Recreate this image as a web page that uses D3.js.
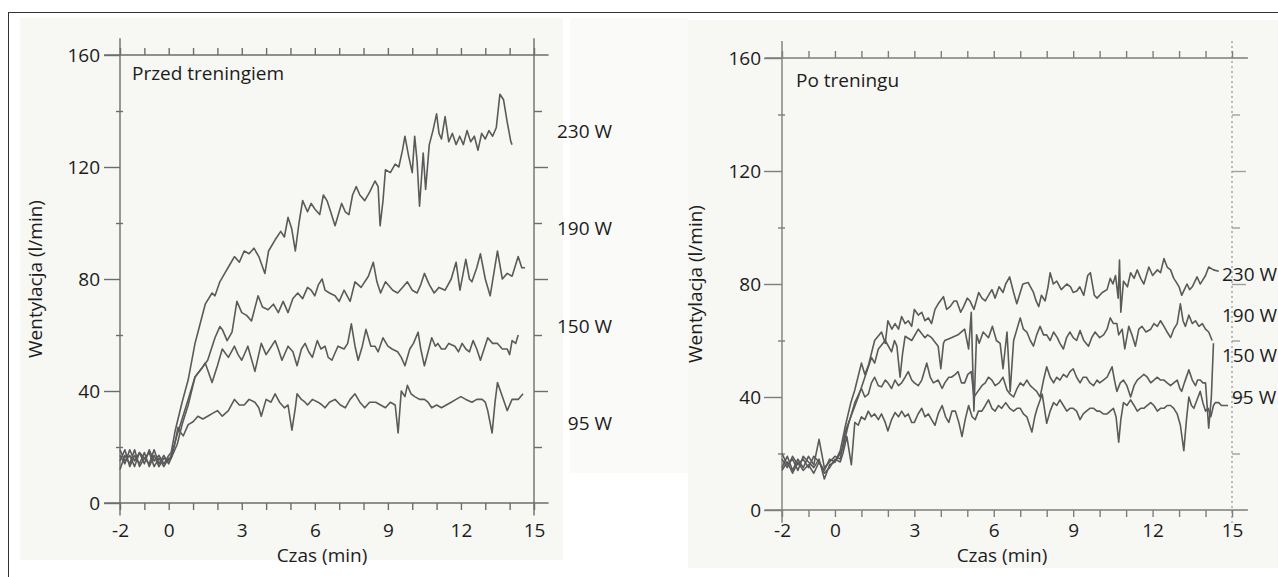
<!DOCTYPE html>
<html>
<head>
<meta charset="utf-8">
<script src="https://cdn.jsdelivr.net/npm/d3@7/dist/d3.min.js"></script>
<style>
  body { margin: 0; background: #fff; }
  svg { display: block; font-family: "Open Sans", "Noto Sans", sans-serif; }
</style>
</head>
<body>
<svg id="chart" width="1278" height="577"></svg>
<script>
// [time (min), ventilation (l/min)]
const przed230 = [[-2,17],[-1.8,14],[-1.6,19],[-1.4,15],[-1.2,18],[-1,14],[-0.8,19],[-0.6,15],[-0.4,17],[-0.2,14],[0,17],
  [0.1,18],[0.27,26],[0.55,36],[0.8,44],[1.08,57],[1.2,61],[1.5,71],[1.78,75],[1.9,74],[2.1,79],[2.3,82],[2.5,85],[2.7,88],[2.9,86],
  [3.1,90],[3.3,89],[3.5,91],[3.7,88],[3.95,82],[4.1,90],[4.37,94],[4.6,97],[4.75,95],[4.9,102],[5.05,98],[5.2,90],[5.35,100],[5.5,108],
  [5.7,104],[5.85,107],[6,105],[6.2,103],[6.35,110],[6.5,108],[6.65,104],[6.83,99],[7,104],[7.1,107],[7.25,104],[7.4,103],[7.55,110],
  [7.7,113],[7.85,110],[8.05,108],[8.25,111],[8.47,115],[8.6,113],[8.68,99],[8.8,108],[8.9,119],[9.1,118],[9.3,121],[9.45,120],[9.6,126],
  [9.7,131],[9.85,124],[10,118],[10.1,131],[10.2,122],[10.3,106],[10.45,125],[10.55,112],[10.7,128],[10.85,133],[11,139],[11.1,132],
  [11.2,130],[11.35,138],[11.5,129],[11.65,132],[11.8,128],[11.95,131],[12.1,128],[12.25,133],[12.4,129],[12.55,131],[12.7,126],
  [12.85,132],[13,130],[13.15,133],[13.3,131],[13.45,134],[13.6,146],[13.75,144],[13.9,136],[14.05,129],[14.1,128]];
const przed190 = [[-2,15],[-1.8,19],[-1.6,13],[-1.4,17],[-1.2,14],[-1,18],[-0.8,13],[-0.6,17],[-0.4,13],[-0.2,16],[0,15],
  [0.1,17],[0.3,23],[0.55,30],[0.8,37],[1.08,45],[1.35,48],[1.6,51],[1.9,59],[2.1,63],[2.2,62],[2.4,58],[2.6,61],[2.8,72],[3,68],
  [3.2,67],[3.4,65],[3.67,74],[3.85,70],[4.08,69],[4.3,71],[4.5,68],[4.7,72],[4.9,68],[5.1,73],[5.3,75],[5.5,73],[5.7,77],[5.85,76],
  [6,74],[6.15,78],[6.3,80],[6.42,76],[6.6,75],[6.83,74],[7,72],[7.2,76],[7.45,72],[7.65,79],[7.9,77],[8.2,81],[8.4,86],[8.55,79],
  [8.7,75],[8.9,79],[9,78],[9.2,76],[9.4,75],[9.6,77],[9.8,79],[10,76],[10.2,75],[10.35,78],[10.5,82],[10.7,78],[10.9,75],[11.1,77],
  [11.35,76],[11.6,80],[11.8,86],[11.96,76],[12.2,87],[12.35,80],[12.45,79],[12.65,84],[12.8,89],[13,80],[13.2,74],[13.35,82],
  [13.5,90],[13.7,80],[13.9,82],[14.1,81],[14.35,88],[14.5,84],[14.63,84]];
const przed150 = [[-2,19],[-1.8,15],[-1.6,17],[-1.4,13],[-1.2,18],[-1,16],[-0.8,14],[-0.6,19],[-0.4,14],[-0.2,17],[0,14],
  [0.1,16],[0.35,21],[0.55,28],[0.8,35],[1.08,45],[1.35,48],[1.5,50],[1.78,43],[2,49],[2.2,55],[2.45,52],[2.7,56],[2.85,53],[3,51],
  [3.25,56],[3.54,47],[3.8,57],[4,53],[4.15,55],[4.37,58],[4.5,55],[4.65,51],[4.9,56],[5.1,54],[5.27,49],[5.45,55],[5.6,57],[5.75,54],
  [5.9,52],[6.1,58],[6.25,55],[6.42,56],[6.55,52],[6.7,51],[6.95,56],[7.2,55],[7.35,57],[7.5,64],[7.65,56],[7.78,51],[7.95,56],[8.1,62],
  [8.3,56],[8.47,56],[8.6,54],[8.8,59],[9,56],[9.17,55],[9.4,54],[9.55,52],[9.7,49],[9.9,55],[10.05,57],[10.24,61],[10.35,55],[10.5,49],
  [10.65,54],[10.8,59],[10.95,56],[11.05,57],[11.2,55],[11.35,55],[11.5,57],[11.75,56],[11.9,54],[12.05,57],[12.2,55],[12.35,54],
  [12.5,58],[12.65,55],[12.8,51],[12.95,55],[13.1,59],[13.3,57],[13.5,57],[13.7,55],[13.9,55],[14,53],[14.1,58],[14.25,57],[14.35,60]];
const przed95 = [[-2,12],[-1.8,17],[-1.6,14],[-1.4,19],[-1.2,13],[-1,16],[-0.8,18],[-0.6,13],[-0.4,16],[-0.2,13],[0,16],
  [0.1,16],[0.25,21],[0.38,27],[0.5,25],[0.6,24],[0.8,28],[1,29],[1.2,31],[1.4,30],[1.6,31],[1.8,32],[2,33],[2.2,31],[2.45,33],[2.7,37],
  [2.9,35],[3.1,35],[3.3,37],[3.54,36],[3.7,34],[3.8,31],[4,37],[4.2,36],[4.37,39],[4.55,36],[4.75,34],[4.9,35],[5.06,26],[5.2,34],
  [5.27,39],[5.45,37],[5.6,36],[5.7,35],[5.9,37],[6.13,36],[6.3,35],[6.42,34],[6.6,36],[6.83,37],[7.05,35],[7.25,34],[7.45,37],[7.65,39],
  [7.85,36],[8.05,34],[8.25,36],[8.5,36],[8.7,35],[8.9,34],[9.1,36],[9.3,35],[9.42,25],[9.55,40],[9.7,38],[9.8,42],[9.95,39],[10.1,38],
  [10.3,37],[10.5,37],[10.65,36],[10.8,34],[11,35],[11.2,34],[11.4,35],[11.6,36],[11.8,37],[12,38],[12.2,37],[12.45,36],[12.65,37],
  [12.87,37],[13,36],[13.1,33],[13.28,25],[13.4,36],[13.5,43],[13.7,38],[13.9,33],[14.1,37],[14.35,37],[14.55,39]];

const po230 = [[-2,18],[-1.8,15],[-1.6,19],[-1.4,16],[-1.2,18],[-1,15],[-0.8,19],[-0.6,17],[-0.4,14],[-0.2,18],[0,17],[0.2,21],
  [0.4,30],[0.6,38],[0.75,42.5],[1,52],[1.13,48],[1.26,51],[1.5,60],[1.76,63],[1.9,59],[2,67],[2.15,64],[2.27,66],[2.4,64],[2.52,68.5],
  [2.65,66],[2.77,67],[2.9,65],[3,71],[3.15,69],[3.28,70],[3.4,67],[3.53,68],[3.65,66],[3.78,71],[3.9,73],[4.1,75.5],[4.22,71],[4.35,72],
  [4.5,74],[4.6,74],[4.75,70],[4.86,72],[5,75],[5.1,74],[5.25,71],[5.43,77],[5.55,75],[5.68,74],[5.8,76],[5.93,78],[6.05,75],[6.2,79],
  [6.35,77],[6.45,80],[6.6,82.5],[6.75,77],[6.87,73],[7,77],[7.1,80],[7.3,80.5],[7.5,77],[7.6,74],[7.7,72],[7.8,76],[7.94,74],[8.05,79],
  [8.13,84],[8.25,80],[8.38,81],[8.55,78],[8.76,80],[8.9,79],[9,77],[9.14,77.5],[9.25,79],[9.4,76],[9.55,83],[9.65,84],[9.8,76],[9.9,75],
  [10.1,77],[10.28,78],[10.4,82],[10.5,80],[10.6,83],[10.7,75],[10.75,88.5],[10.8,70],[10.9,81],[11.05,79],[11.17,84],[11.3,82],
  [11.42,85],[11.55,82],[11.67,80],[11.86,86],[12,83],[12.18,85],[12.3,84],[12.43,89],[12.55,86],[12.68,85],[12.8,82],[12.87,81],
  [13,79],[13.1,76],[13.2,78],[13.3,80],[13.4,78],[13.5,79],[13.68,82.5],[13.8,80],[13.87,81],[14,83],[14.12,86],[14.3,85],[14.5,84.5]];
const po190 = [[-2,15],[-1.8,19],[-1.6,14],[-1.4,18],[-1.2,15],[-1,19],[-0.8,16],[-0.6,25],[-0.4,15],[-0.2,17],[0,19],[0.2,18],
  [0.4,28],[0.6,33],[0.88,40],[1.13,47],[1.38,54],[1.5,52],[1.64,57],[1.9,60],[2.14,56],[2.25,60],[2.34,58],[2.46,47],[2.55,55],
  [2.65,61.5],[2.9,60],[3.15,64],[3.4,61],[3.5,62],[3.65,61],[3.9,58],[4,50],[4.1,59],[4.15,60],[4.4,61],[4.65,62],[4.9,64],[5.05,57],
  [5.15,70],[5.25,35],[5.35,62],[5.45,59],[5.6,63],[5.8,61],[5.95,65],[6.1,60],[6.24,59],[6.35,50],[6.5,63],[6.62,42],[6.75,60],[7,68],
  [7.12,64],[7.25,63],[7.38,60],[7.5,58],[7.62,62],[7.75,65],[7.88,62],[8,62],[8.13,60],[8.26,63],[8.4,61],[8.5,59],[8.63,57],[8.75,61],
  [8.88,63],[9,61],[9.13,60],[9.26,63.5],[9.4,60],[9.58,58],[9.7,61],[9.83,63],[10,61],[10.15,62],[10.28,64],[10.4,68],[10.52,66],
  [10.65,66],[10.72,62],[10.85,64],[10.95,57],[11.1,65],[11.22,62],[11.35,58],[11.48,64],[11.6,65],[11.75,63],[11.93,64],[12.05,66],
  [12.18,65],[12.3,67],[12.43,65],[12.55,63],[12.68,61],[12.8,64],[12.93,66],[13.05,73],[13.15,67],[13.24,65],[13.37,69],[13.5,66],
  [13.62,67],[13.75,65],[13.88,66],[14,64],[14.12,63],[14.25,60]];
const po150 = [[-2,20],[-1.8,16],[-1.6,18],[-1.4,14],[-1.2,19],[-1,17],[-0.8,15],[-0.6,18],[-0.4,11],[-0.2,16],[0,17],[0.2,20],
  [0.3,22],[0.5,30],[0.75,38],[1,43],[1.13,40],[1.26,41],[1.38,45],[1.5,47],[1.64,44],[1.76,43.6],[1.9,46],[2,45],[2.14,43],[2.27,46],
  [2.4,44],[2.52,45],[2.65,47],[2.77,49],[2.9,46],[3,45],[3.15,44],[3.28,46],[3.47,52],[3.6,47],[3.72,45],[3.9,46],[4.05,43],[4.15,45],
  [4.3,47],[4.4,47],[4.55,48],[4.65,49],[4.78,45],[4.9,45],[5.02,48],[5.15,49],[5.25,40],[5.4,42],[5.55,44],[5.68,45],[5.8,47],[5.93,46],
  [6.05,44],[6.2,45],[6.35,47],[6.5,42.5],[6.62,41],[6.75,40],[6.88,43],[7,45],[7.12,44],[7.25,46],[7.38,44],[7.5,43],[7.62,42],[7.75,40],
  [7.88,46],[8,50.7],[8.13,47],[8.26,45],[8.38,47],[8.5,46],[8.63,48],[8.76,47],[8.88,49],[9,50],[9.13,47],[9.26,45],[9.38,47],[9.5,47],
  [9.63,45],[9.77,44],[9.9,46],[10,45],[10.14,46],[10.28,47],[10.38,49],[10.47,50.7],[10.56,46],[10.65,42],[10.78,45],[10.9,46],
  [11.03,44],[11.17,40],[11.3,44],[11.42,46],[11.55,47],[11.67,48],[11.8,47],[11.93,45],[12.05,46],[12.18,47],[12.3,46],[12.43,46],
  [12.55,45],[12.68,44],[12.8,45],[12.93,46],[13.03,43],[13.1,42],[13.2,45],[13.37,49.6],[13.5,46],[13.62,44],[13.7,46],[13.8,46],
  [13.9,45],[14,45],[14.12,29],[14.22,40],[14.3,59]];
const po95 = [[-2,14],[-1.8,17],[-1.6,13],[-1.4,17],[-1.2,14],[-1,16],[-0.8,13],[-0.6,17],[-0.4,13],[-0.2,15],[0,18],[0.2,17],
  [0.3,20],[0.45,26],[0.62,16],[0.75,31],[0.88,30],[1,33],[1.13,32],[1.26,35],[1.38,33],[1.5,34],[1.64,32],[1.76,34],[1.9,31],[2,28],
  [2.14,32],[2.27,34.5],[2.4,33],[2.52,35],[2.65,33],[2.77,34],[2.9,31],[3,31],[3.14,34],[3.28,36],[3.4,33],[3.53,34],[3.65,32],[3.78,30],
  [3.9,34],[4.05,37],[4.18,33],[4.3,31],[4.42,35],[4.55,35],[4.68,31],[4.8,26],[4.92,32],[5.05,37],[5.18,33],[5.3,32],[5.42,35],[5.55,35],
  [5.68,37],[5.8,39],[5.93,36],[6.05,35],[6.18,37],[6.3,36],[6.45,38],[6.6,36],[6.75,35],[6.88,36],[7,36],[7.12,34],[7.25,33],[7.44,27.6],
  [7.55,33],[7.64,36],[7.83,41],[8,30.7],[8.13,35],[8.26,38],[8.38,37],[8.5,39],[8.63,37],[8.76,35],[8.88,36],[9,36],[9.13,35],[9.26,32],
  [9.38,34],[9.5,35],[9.63,36],[9.77,36],[9.9,35],[10,35],[10.14,34],[10.28,34],[10.4,35],[10.52,36],[10.62,33],[10.72,24],[10.8,32],
  [10.9,38],[11.03,37],[11.17,39],[11.3,37],[11.42,35],[11.55,36],[11.67,36],[11.8,37],[11.93,38],[12.05,37],[12.18,35],[12.3,36],
  [12.43,36],[12.55,37],[12.68,37],[12.8,36],[12.93,34],[13.05,30],[13.18,21],[13.28,32],[13.37,40],[13.47,37],[13.56,36],[13.68,39],
  [13.8,42],[13.9,38],[14,35],[14.1,36],[14.2,33],[14.3,37],[14.37,38],[14.5,38],[14.6,37],[14.7,37],[14.85,37]];

const loads = ['230 W', '190 W', '150 W', '95 W'];
const yLabelTicks = [0, 40, 80, 120, 160];
const yMinorTicks = [20, 60, 100, 140];
const xLabelTicks = [-2, 0, 3, 6, 9, 12, 15];
const minuteTicks = [-2,-1,0,1,2,3,4,5,6,7,8,9,10,11,12,13,14,15];
const rightTicks = [20, 40, 60, 80, 100, 120, 140];

const svg = d3.select('#chart');
const ink = '#1c1c1c';
const fontSize = 19;

// scanned paper tones
svg.append('rect').attr('x', 20).attr('y', 18).attr('width', 543).attr('height', 542).attr('fill', '#f7f7f4');
svg.append('rect').attr('x', 570).attr('y', 18).attr('width', 118).attr('height', 455).attr('fill', '#fafaf8');
svg.append('rect').attr('x', 688).attr('y', 20).attr('width', 590).attr('height', 548).attr('fill', '#f7f7f4');

svg.append('line').attr('x1', 8).attr('x2', 1278).attr('y1', 12.5).attr('y2', 12.5).attr('stroke', '#333');
svg.append('line').attr('x1', 8.5).attr('x2', 8.5).attr('y1', 12).attr('y2', 577).attr('stroke', '#333');

const panels = [
  {title: 'Przed treningiem', series: [przed230, przed190, przed150, przed95],
   xr: [120, 534], yr: [503, 55], titleX: 132, titleY: 80, yTitleX: 35, tickLen: 16, tickPad: 4,
   axisColor: '#6d6d6d', rightDash: null, loadAnchor: 'end', loadX: [612, 612, 612, 612], loadY: [131, 228, 326, 423]},
  {title: 'Po treningu', series: [po230, po190, po150, po95],
   xr: [782, 1232], yr: [510, 58], titleX: 796, titleY: 87, yTitleX: 695, tickLen: 18, tickPad: 3,
   axisColor: '#7d7d7d', rightDash: '2,3', loadAnchor: 'start', loadX: [1222, 1222, 1222, 1232], loadY: [274, 315, 355, 397]}
];

panels.forEach(p => {
  const x = d3.scaleLinear().domain([-2, 15]).range(p.xr);
  const y = d3.scaleLinear().domain([0, 160]).range(p.yr);
  const g = svg.append('g');

  // frame lines, running a little past the corners
  const frame = [
    [[-2.65, 160], [15.6, 160]], [[-2.65, 0], [15.6, 0]],
    [[-2, 166], [-2, -4.5]], [[15, 166], [15, -4.5]]
  ];
  frame.forEach((f, i) => {
    g.append('line')
      .attr('x1', x(f[0][0])).attr('y1', y(f[0][1]))
      .attr('x2', x(f[1][0])).attr('y2', y(f[1][1]))
      .attr('stroke', i === 3 && p.rightDash ? '#a0a0a0' : p.axisColor)
      .attr('stroke-width', 1.4)
      .attr('stroke-dasharray', i === 3 ? p.rightDash : null);
  });

  const styleAxis = sel => {
    sel.attr('font-family', null);
    sel.select('.domain').remove();
    sel.selectAll('line').attr('stroke', p.axisColor).attr('stroke-width', 1.4);
    sel.selectAll('text').attr('fill', ink).attr('font-size', fontSize);
  };

  g.append('g').attr('transform', `translate(${p.xr[0]},0)`)
    .call(d3.axisLeft(y).tickValues(yLabelTicks).tickSize(p.tickLen).tickPadding(p.tickPad).tickFormat(d => String(d)))
    .call(styleAxis);
  g.append('g').attr('transform', `translate(${p.xr[0] + 3},0)`)
    .call(d3.axisLeft(y).tickValues(yMinorTicks).tickSize(7).tickFormat(''))
    .call(styleAxis);

  g.append('g').attr('transform', `translate(0,${p.yr[1]})`)
    .call(d3.axisTop(x).tickValues(minuteTicks).tickSize(7).tickFormat(''))
    .call(styleAxis);
  g.append('g').attr('transform', `translate(0,${p.yr[0]})`)
    .call(d3.axisBottom(x).tickValues(minuteTicks).tickSize(7).tickFormat(''))
    .call(styleAxis);
  // minute labels sit on the same baseline in both panels
  g.append('g').attr('transform', 'translate(0,523)')
    .call(d3.axisBottom(x).tickValues(xLabelTicks).tickSize(0).tickPadding(0).tickFormat(d => String(d)))
    .call(styleAxis);

  g.append('g').attr('transform', `translate(${p.xr[1]},0)`)
    .call(d3.axisRight(y).tickValues(rightTicks).tickSize(8).tickFormat(''))
    .call(styleAxis)
    .call(s => s.selectAll('line')
      .attr('x2', d => d % 40 === 0 ? 14 : 8)
      .attr('stroke', p.rightDash ? '#a0a0a0' : p.axisColor));

  const line = d3.line().x(d => x(d[0])).y(d => y(d[1]));
  g.selectAll('path.curve').data(p.series).enter()
    .append('path').attr('class', 'curve')
    .attr('d', line)
    .attr('fill', 'none')
    .attr('stroke', '#5a5a5a')
    .attr('stroke-width', 1.6)
    .attr('stroke-linejoin', 'round');

  g.append('text').attr('x', p.titleX).attr('y', p.titleY)
    .attr('font-size', fontSize).attr('fill', ink).text(p.title);

  g.selectAll('text.load').data(loads).enter()
    .append('text').attr('class', 'load')
    .attr('x', (d, i) => p.loadX[i]).attr('y', (d, i) => p.loadY[i])
    .attr('dy', '0.36em').attr('text-anchor', p.loadAnchor)
    .attr('font-size', fontSize).attr('fill', ink).text(d => d);

  g.append('text')
    .attr('transform', `translate(${p.yTitleX},${(p.yr[0] + p.yr[1]) / 2}) rotate(-90)`)
    .attr('text-anchor', 'middle').attr('dy', '0.36em')
    .attr('font-size', fontSize).attr('fill', ink).text('Wentylacja (l/min)');

  g.append('text')
    .attr('x', (p.xr[0] + p.xr[1]) / 2 - 5).attr('y', 562)
    .attr('text-anchor', 'middle')
    .attr('font-size', fontSize).attr('fill', ink).text('Czas (min)');
});
</script>
</body>
</html>
